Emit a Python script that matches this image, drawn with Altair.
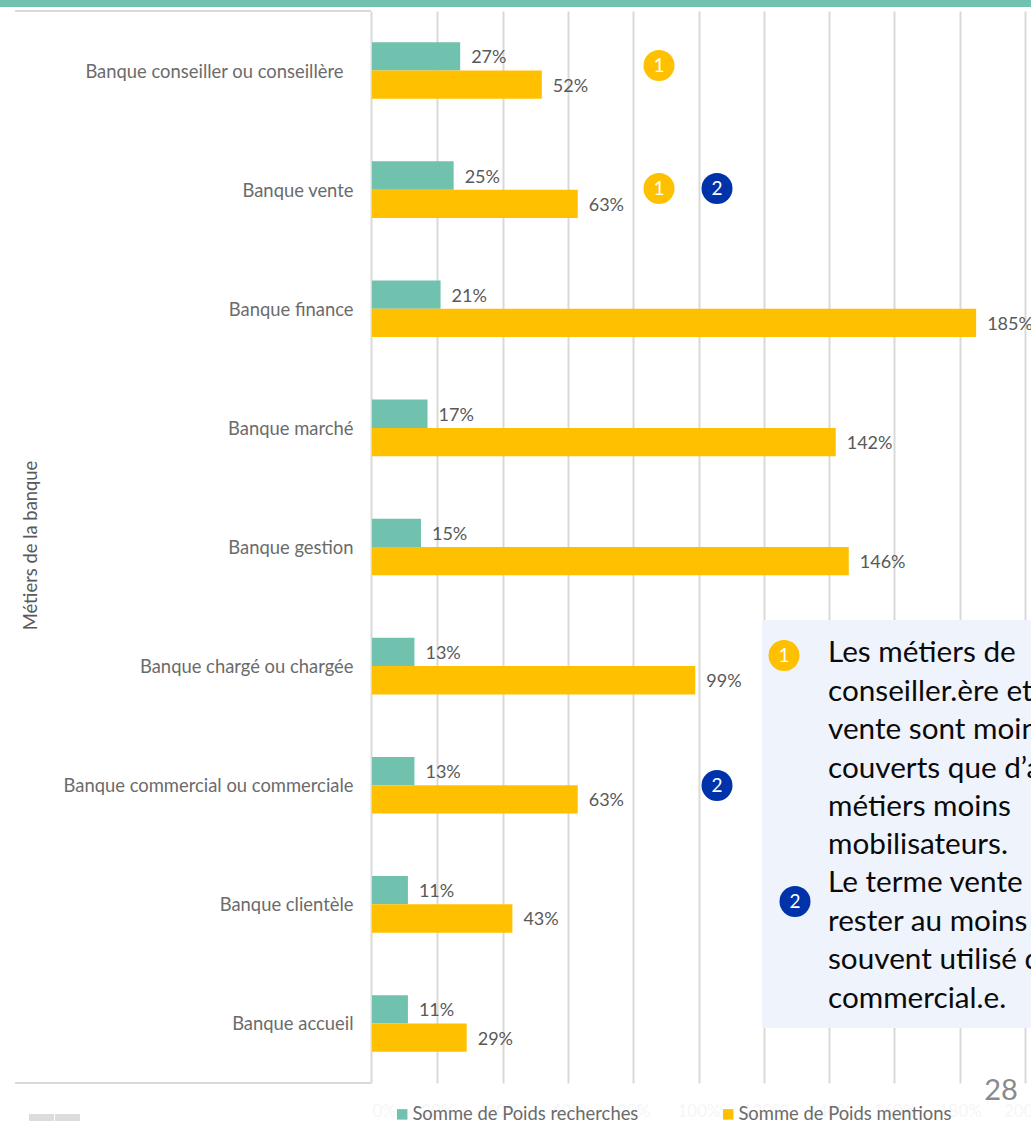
import altair as alt
import pandas as pd

FONT = "Lato"
TEAL = "#70c1ad"
GOLD = "#ffc000"
BLUE = "#0033a9"
GRID = "#d9d9d9"

# Plot-area origin on the page, used to place the slide furniture
LEFT, TOP = 372, 11
PLOT_W, PLOT_H = 659, 1072

metiers = [
    "Banque conseiller ou conseillère",
    "Banque vente",
    "Banque finance",
    "Banque marché",
    "Banque gestion",
    "Banque chargé ou chargée",
    "Banque commercial ou commerciale",
    "Banque clientèle",
    "Banque accueil",
]
poids_recherches = [27, 25, 21, 17, 15, 13, 13, 11, 11]
poids_mentions = [52, 63, 185, 142, 146, 99, 63, 43, 29]
series = ["Somme de Poids recherches", "Somme de Poids mentions"]

callout_lines = [
    "Les métiers de",
    "conseiller.ère et",
    "vente sont moins",
    "couverts que d’autres",
    "métiers moins",
    "mobilisateurs.",
    "Le terme vente",
    "rester au moins",
    "souvent utilisé que",
    "commercial.e.",
]
callout_centres = [653, 692, 730, 769, 807, 845, 883, 922, 960, 999]

rows = []
for m, r, v in zip(metiers, poids_recherches, poids_mentions):
    rows.append({"metier": m, "serie": series[0], "poids": r})
    rows.append({"metier": m, "serie": series[1], "poids": v})
df = pd.DataFrame(rows)

x_scale = alt.Scale(domain=[0, 201.8], nice=False, zero=True)
y_scale = alt.Scale(domain=metiers, paddingInner=0.525, paddingOuter=0.2625)
off_scale = alt.Scale(domain=series, paddingInner=0, paddingOuter=0)

base = alt.Chart(df).encode(
    y=alt.Y(
        "metier:N",
        scale=y_scale,
        sort=metiers,
        axis=alt.Axis(
            title="Métiers de la banque",
            titleFont=FONT,
            titleFontSize=18.4,
            titleFontWeight="normal",
            titleColor="#595959",
            titleAngle=270,
            titleAlign="center",
            titleBaseline="middle",
            titleX=-341,
            titleY=534,
            labelFont=FONT,
            labelFontSize=18.4,
            labelColor="#6b6b6b",
            labelPadding={
                "condition": {"test": "indexof(datum.value, 'conseillère') >= 0", "value": 28},
                "value": 18,
            },
            labelOffset=1,
            labelLimit=340,
            ticks=False,
            domainColor=GRID,
            domainWidth=2,
            grid=False,
            offset=1,
        ),
    ),
    yOffset=alt.YOffset("serie:N", scale=off_scale, sort=series),
)

bars = base.mark_bar(size=28.3).encode(
    x=alt.X(
        "poids:Q",
        scale=x_scale,
        axis=alt.Axis(
            title=None,
            values=list(range(0, 201, 20)),
            labelExpr="datum.value + '%'",
            labelFont=FONT,
            labelFontSize=17,
            labelColor="#f6f6f6",
            labelPadding=20,
            ticks=False,
            domain=False,
            grid=True,
            gridColor=GRID,
            gridWidth=2,
            gridOpacity={"condition": {"test": "datum.value === 0", "value": 0}, "value": 1},
        ),
    ),
    color=alt.Color(
        "serie:N",
        scale=alt.Scale(domain=series, range=[TEAL, GOLD]),
        sort=series,
        legend=alt.Legend(
            title=None,
            orient="none",
            legendX=393 - LEFT,
            legendY=1105 - TOP,
            direction="horizontal",
            columns=2,
            columnPadding=80,
            symbolType="square",
            symbolSize=110,
            symbolStrokeWidth=0,
            labelFont=FONT,
            labelFontSize=18.4,
            labelOffset=1,
            labelColor="#6b6b6b",
            labelLimit=300,
        ),
    ),
)

labels = base.mark_text(
    align="left", dx=11, dy=2, font=FONT, fontSize=18, color="#595959"
).encode(
    x=alt.X("poids:Q", scale=x_scale),
    text=alt.Text("label:N"),
).transform_calculate(label="datum.poids + '%'")


def page_x(px):
    return alt.value(px - LEFT)


def page_y(py):
    return alt.value(py - TOP)


blank = alt.Data(values=[{}])


def box(x0, x1, y0, y1, color):
    return alt.Chart(blank).mark_rect(color=color, clip=False).encode(
        x=page_x(x0), x2=page_x(x1), y=page_y(y0), y2=page_y(y1)
    )


def badge(px, py, digit, color):
    disc = alt.Chart(blank).mark_point(
        shape="circle", filled=True, size=961, color=color, opacity=1
    ).encode(x=page_x(px), y=page_y(py))
    num = alt.Chart(blank).mark_text(
        text=digit, font=FONT, fontSize=19, color="white", baseline="middle", align="center"
    ).encode(x=page_x(px), y=page_y(py))
    return disc + num


def hline(x0, x1, py):
    return alt.Chart(blank).mark_rule(color=GRID, strokeWidth=2).encode(
        x=page_x(x0), x2=page_x(x1), y=page_y(py)
    )


callout_df = pd.DataFrame({"ligne": callout_lines, "centre": callout_centres})
callout_text = alt.Chart(callout_df).transform_calculate(
    ypix=f"datum.centre - {TOP}"
).mark_text(
    align="left", baseline="middle", font=FONT, fontSize=29.7, color="#0a0a0a"
).encode(
    x=page_x(828),
    y=alt.Y("ypix:Q", scale=None),
    text="ligne:N",
)

chart = alt.layer(
    bars,
    box(0, 1031, 0, 7, TEAL),
    hline(15, LEFT - 1, 11),
    hline(15, LEFT - 1, 1083),
    labels,
    box(762, 1031, 620, 1028, "#eff3fb"),
    callout_text,
    badge(659, 65.5, "1", GOLD),
    badge(659, 188.5, "1", GOLD),
    badge(717, 188.5, "2", BLUE),
    badge(717, 785.5, "2", BLUE),
    badge(784, 655.5, "1", GOLD),
    badge(795, 901.5, "2", BLUE),
    box(29, 54, 1114, 1121, "#dcdcdc"),
    box(55, 80, 1114, 1121, "#dcdcdc"),
    alt.Chart(blank).mark_text(
        text="28", font=FONT, fontSize=29, color="#8a8a8a", align="center", baseline="middle"
    ).encode(x=page_x(1001), y=page_y(1091)),
).properties(
    width=PLOT_W,
    height=PLOT_H,
    padding={"left": LEFT, "top": TOP, "right": 0, "bottom": 1121 - TOP - PLOT_H},
    autosize=alt.AutoSizeParams(type="none"),
    background="white",
).configure_view(stroke=None)

chart.save("out.html", embed_options={"renderer": "svg", "actions": False})
